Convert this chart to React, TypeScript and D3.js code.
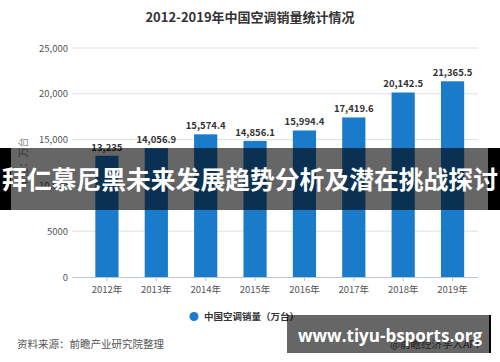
import React from "react";
import * as d3 from "d3";

const years = ["2012年", "2013年", "2014年", "2015年", "2016年", "2017年", "2018年", "2019年"];
const sales = [13235, 14056.9, 15574.4, 14856.1, 15994.4, 17419.6, 20142.5, 21365.5];
const valueLabels = ["13,235", "14,056.9", "15,574.4", "14,856.1", "15,994.4", "17,419.6", "20,142.5", "21,365.5"];
const yTicks = [0, 5000, 10000, 15000, 20000, 25000];
const yTickLabels = ["0", "5000", "10,000", "15,000", "20,000", "25,000"];

const W = 500;
const H = 362;
const font = "'Noto Sans CJK SC', 'Noto Sans', sans-serif";

export default function App() {
  const x = d3.scaleBand<string>().domain(years).range([82, 477.5]).paddingInner(0.53).paddingOuter(0.27);
  const y = d3.scaleLinear().domain([0, 25000]).range([277, 48]);
  const bw = x.bandwidth();

  return (
    <svg
      width={W}
      height={H}
      style={{ position: "absolute", left: 0, top: 0, background: "#fff" }}
      fontFamily={font}
    >
      <text x={250} y={22} textAnchor="middle" fontSize={13} fontWeight="bold" fill="#333">
        2012-2019年中国空调销量统计情况
      </text>

      {/* grid + y ticks */}
      {yTicks.map((t, i) => (
        <g key={t}>
          {t > 0 && <line x1={72} x2={478} y1={y(t)} y2={y(t)} stroke="#e0e0e0" strokeWidth={1} />}
          <text x={68} y={y(t) + 3.5} textAnchor="end" fontSize={9.5} fill="#555">
            {yTickLabels[i]}
          </text>
        </g>
      ))}
      <text
        transform={`translate(27,${y(12500)}) rotate(-90)`}
        textAnchor="middle"
        fontSize={10}
        fill="#888"
      >
        单位：万台
      </text>

      {/* bars */}
      {sales.map((v, i) => (
        <g key={years[i]}>
          <rect x={x(years[i])} y={y(v)} width={bw} height={y(0) - y(v)} fill="#1a7bcb" />
          <text
            x={(x(years[i]) as number) + bw / 2}
            y={y(v) - 5}
            textAnchor="middle"
            fontSize={9.5}
            fontWeight="bold"
            fill="#333"
          >
            {valueLabels[i]}
          </text>
        </g>
      ))}

      {/* x axis */}
      <line x1={72} x2={478} y1={y(0) + 0.5} y2={y(0) + 0.5} stroke="#b8c4d0" />
      {years.map((yr) => {
        const cx = (x(yr) as number) + bw / 2;
        return (
          <g key={yr}>
            <line x1={cx} x2={cx} y1={y(0)} y2={y(0) + 4} stroke="#b8c4d0" />
            <text x={cx} y={293} textAnchor="middle" fontSize={9.5} fill="#555">
              {yr}
            </text>
          </g>
        );
      })}

      {/* legend */}
      <circle cx={194} cy={316.5} r={4.5} fill="#1a7bcb" />
      <text x={204} y={320} fontSize={9.5} fontWeight="bold" fill="#333">
        中国空调销量（万台）
      </text>

      <text x={17} y={348} fontSize={10.5} fill="#555">
        资料来源：前瞻产业研究院整理
      </text>
      <text x={390} y={348} fontSize={10.5} fill="#555">
        @前瞻经济学人APP
      </text>

      {/* overlay band */}
      <rect x={0} y={148} width={11} height={62} fill="#000" />
      <rect x={11} y={148} width={477} height={62} fill="#000" fillOpacity={0.6} />
      <rect x={488} y={148} width={12} height={62} fill="#000" />
      <text x={250} y={189} textAnchor="middle" fontSize={24.8} fontWeight="bold" fill="#fff">
        拜仁慕尼黑未来发展趋势分析及潜在挑战探讨
      </text>

      {/* bottom-right box */}
      <rect x={287} y={315} width={202} height={38} fill="#000" fillOpacity={0.6} />
      <rect x={489} y={315} width={2} height={38} fill="#000" />
      <text x={298} y={342} fontSize={17} fontWeight="bold" fill="#fff" fontFamily="'Open Sans', 'Noto Sans', sans-serif">
        www.tiyu-bsports.org
      </text>
    </svg>
  );
}
